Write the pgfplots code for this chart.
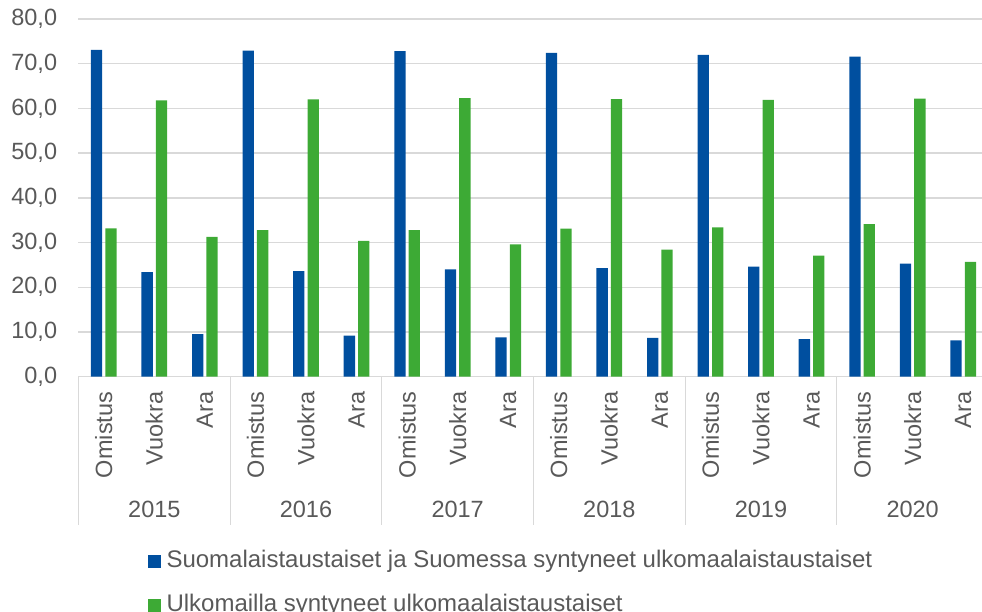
\documentclass[border=0pt]{standalone}
\usepackage{pgfplots}
\pgfplotsset{compat=1.18}
\usepackage{pgfplotstable}
\usepackage{fontspec}
\setmainfont{Liberation Sans}
\definecolor{cblue}{HTML}{004F9F}
\definecolor{cgreen}{HTML}{3DAA35}
\definecolor{txt}{HTML}{595959}
\definecolor{gridc}{HTML}{D9D9D9}

\pgfplotstableread{
x a b
0 73.1 33.2
1 23.4 61.8
2 9.5 31.3
3 72.9 32.8
4 23.6 62.0
5 9.2 30.4
6 72.8 32.8
7 24.0 62.3
8 8.8 29.6
9 72.4 33.1
10 24.3 62.1
11 8.7 28.4
12 72.0 33.4
13 24.6 61.9
14 8.4 27.1
15 71.6 34.1
16 25.3 62.2
17 8.1 25.7
}\data

\begin{document}
\begin{tikzpicture}[font=\fontsize{23.5}{28}\selectfont]
\begin{axis}[
  name=ax,
  scale only axis, width=910pt, height=357.7pt,
  xmin=-0.5, xmax=17.5, ymin=0, ymax=80,
  clip=false,
  axis x line*=bottom, axis y line*=left,
  x axis line style={draw=gridc, line width=1.3pt},
  y axis line style={draw=none},
  ytick={0,10,...,80},
  yticklabels={{0,0},{10,0},{20,0},{30,0},{40,0},{50,0},{60,0},{70,0},{80,0}},
  ymajorgrids, grid style={draw=gridc, line width=1.3pt},
  ytick style={draw=none},
  yticklabel style={inner sep=0pt, anchor=east},
  yticklabel shift=21.2pt,
  xtick={0,...,17},
  xticklabels={Omistus,Vuokra,Ara,Omistus,Vuokra,Ara,Omistus,Vuokra,Ara,Omistus,Vuokra,Ara,Omistus,Vuokra,Ara,Omistus,Vuokra,Ara},
  xtick style={draw=none},
  xticklabel style={rotate=90, anchor=east, inner sep=0pt},
  xticklabel shift=15pt,
  tick label style={text=txt},
  extra x ticks={-0.5,2.5,5.5,8.5,11.5,14.5,17.5},
  extra x tick labels={},
  extra x tick style={grid=none, major tick length=148pt, tick align=outside, xtick style={draw=gridc, line width=1.3pt}},
  legend style={at={(axis description cs:0.0764,-0.4853)}, anchor=north west, draw=none, fill=none,
    inner sep=0pt, outer sep=0pt, column sep=6pt, row sep=22pt,
    font=\fontsize{24}{28}\selectfont,
    nodes={inner sep=0pt, text=txt, text height=17pt, text depth=5pt},
    legend cell align=left},
  legend image code/.code={\fill[#1] (0pt,-6.5pt) rectangle (12.5pt,6.5pt);},
]
\addplot[ybar, bar width=11.3pt, bar shift=-7.2pt, fill=cblue, draw=none] table[x=x,y=a]{\data};
\addlegendentry{Suomalaistaustaiset ja Suomessa syntyneet ulkomaalaistaustaiset}
\addplot[ybar, bar width=11.3pt, bar shift=7.2pt, fill=cgreen, draw=none] table[x=x,y=b]{\data};
\addlegendentry{Ulkomailla syntyneet ulkomaalaistaustaiset}
\node[text=txt, anchor=center] at (axis cs:1,0) [yshift=-133pt] {2015};
\node[text=txt, anchor=center] at (axis cs:4,0) [yshift=-133pt] {2016};
\node[text=txt, anchor=center] at (axis cs:7,0) [yshift=-133pt] {2017};
\node[text=txt, anchor=center] at (axis cs:10,0) [yshift=-133pt] {2018};
\node[text=txt, anchor=center] at (axis cs:13,0) [yshift=-133pt] {2019};
\node[text=txt, anchor=center] at (axis cs:16,0) [yshift=-133pt] {2020};
\end{axis}
\pgfresetboundingbox
\path[use as bounding box] ([shift={(-78.5pt,-235.3pt)}]ax.south west) rectangle ([shift={(903.5pt,376.7pt)}]ax.south west);
\end{tikzpicture}
\end{document}
